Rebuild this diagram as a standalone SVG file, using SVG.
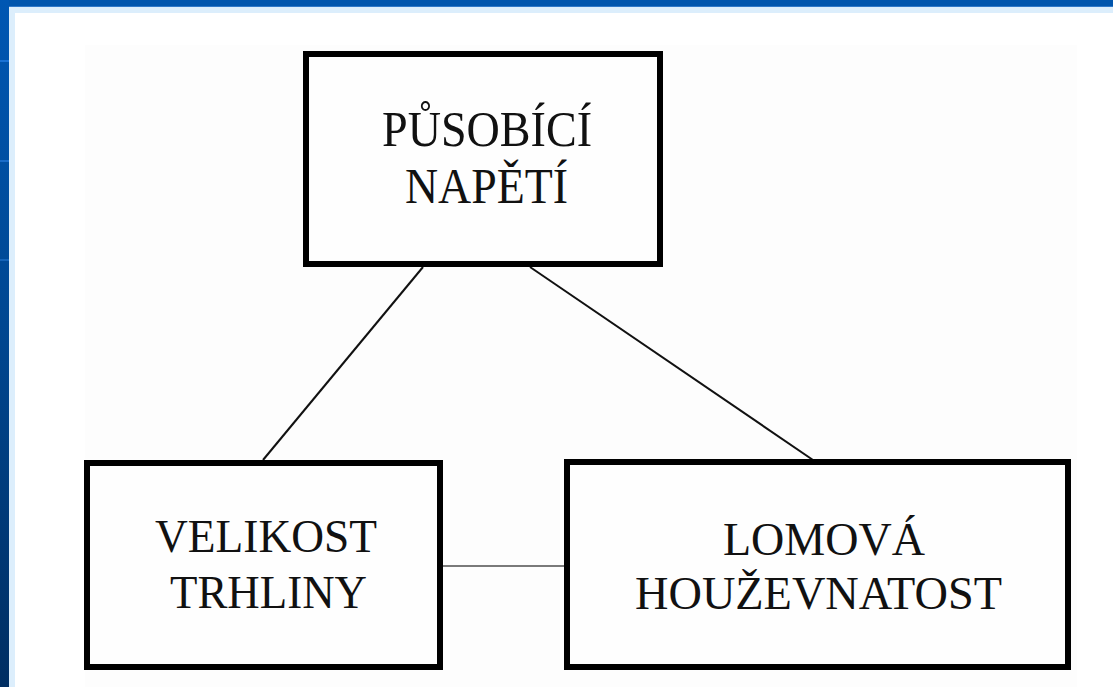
<svg xmlns="http://www.w3.org/2000/svg" width="1113" height="687" viewBox="0 0 1113 687">
<defs>
<linearGradient id="side" x1="0" y1="0" x2="0" y2="1">
<stop offset="0" stop-color="#0057b3"/>
<stop offset="0.5" stop-color="#00468f"/>
<stop offset="1" stop-color="#002e62"/>
</linearGradient>
<style>
.box{fill:#fefefe;stroke:#000;stroke-width:6}
.lbl{fill:#111;text-anchor:middle;font-family:"Liberation Serif","DejaVu Serif","Times New Roman",Times,serif}
.edge{stroke:#111;stroke-width:2;fill:none}
.edge2{stroke:#7a7a7a;stroke-width:2;fill:none}
</style>
</defs>
<rect x="0" y="0" width="1113" height="687" fill="#ffffff"/>
<rect x="0" y="0" width="1113" height="7" fill="#0055ad"/>
<rect x="0" y="0" width="9" height="687" fill="url(#side)"/>
<rect x="0" y="60" width="9" height="2" fill="#1a72d4"/>
<rect x="0" y="160" width="9" height="2" fill="#1a6cc8"/>
<rect x="0" y="259" width="9" height="2" fill="#1664b8"/>
<rect x="9" y="7" width="1104" height="6" fill="#dceefc"/>
<rect x="9" y="7" width="6" height="680" fill="#dceefc"/>
<rect x="9" y="6" width="1104" height="1" fill="#2f78c8"/>
<rect x="85" y="45" width="992" height="642" fill="#fdfdfd"/>
<g id="connectors">
<line class="edge" x1="423" y1="267" x2="263" y2="460"/>
<line class="edge" x1="530" y1="267" x2="813" y2="460"/>
<line class="edge2" x1="443" y1="566" x2="564" y2="566"/>
</g>
<g id="node-pusobici-napeti" font-size="50">
<rect class="box" x="306" y="54" width="354" height="210"/>
<text class="lbl" x="487" y="146" textLength="210" lengthAdjust="spacingAndGlyphs">PŮSOBÍCÍ</text>
<text class="lbl" x="486.5" y="203" textLength="163" lengthAdjust="spacingAndGlyphs">NAPĚTÍ</text>
</g>
<g id="node-velikost-trhliny" font-size="47">
<rect class="box" x="87" y="463" width="353" height="204"/>
<text class="lbl" x="266" y="552" textLength="222" lengthAdjust="spacingAndGlyphs">VELIKOST</text>
<text class="lbl" x="268.5" y="608" textLength="197" lengthAdjust="spacingAndGlyphs">TRHLINY</text>
</g>
<g id="node-lomova-houzevnatost" font-size="47">
<rect class="box" x="567" y="462" width="501" height="205"/>
<text class="lbl" x="824" y="555" textLength="202" lengthAdjust="spacingAndGlyphs">LOMOVÁ</text>
<text class="lbl" x="818.5" y="609" textLength="367" lengthAdjust="spacingAndGlyphs">HOUŽEVNATOST</text>
</g>
</svg>
